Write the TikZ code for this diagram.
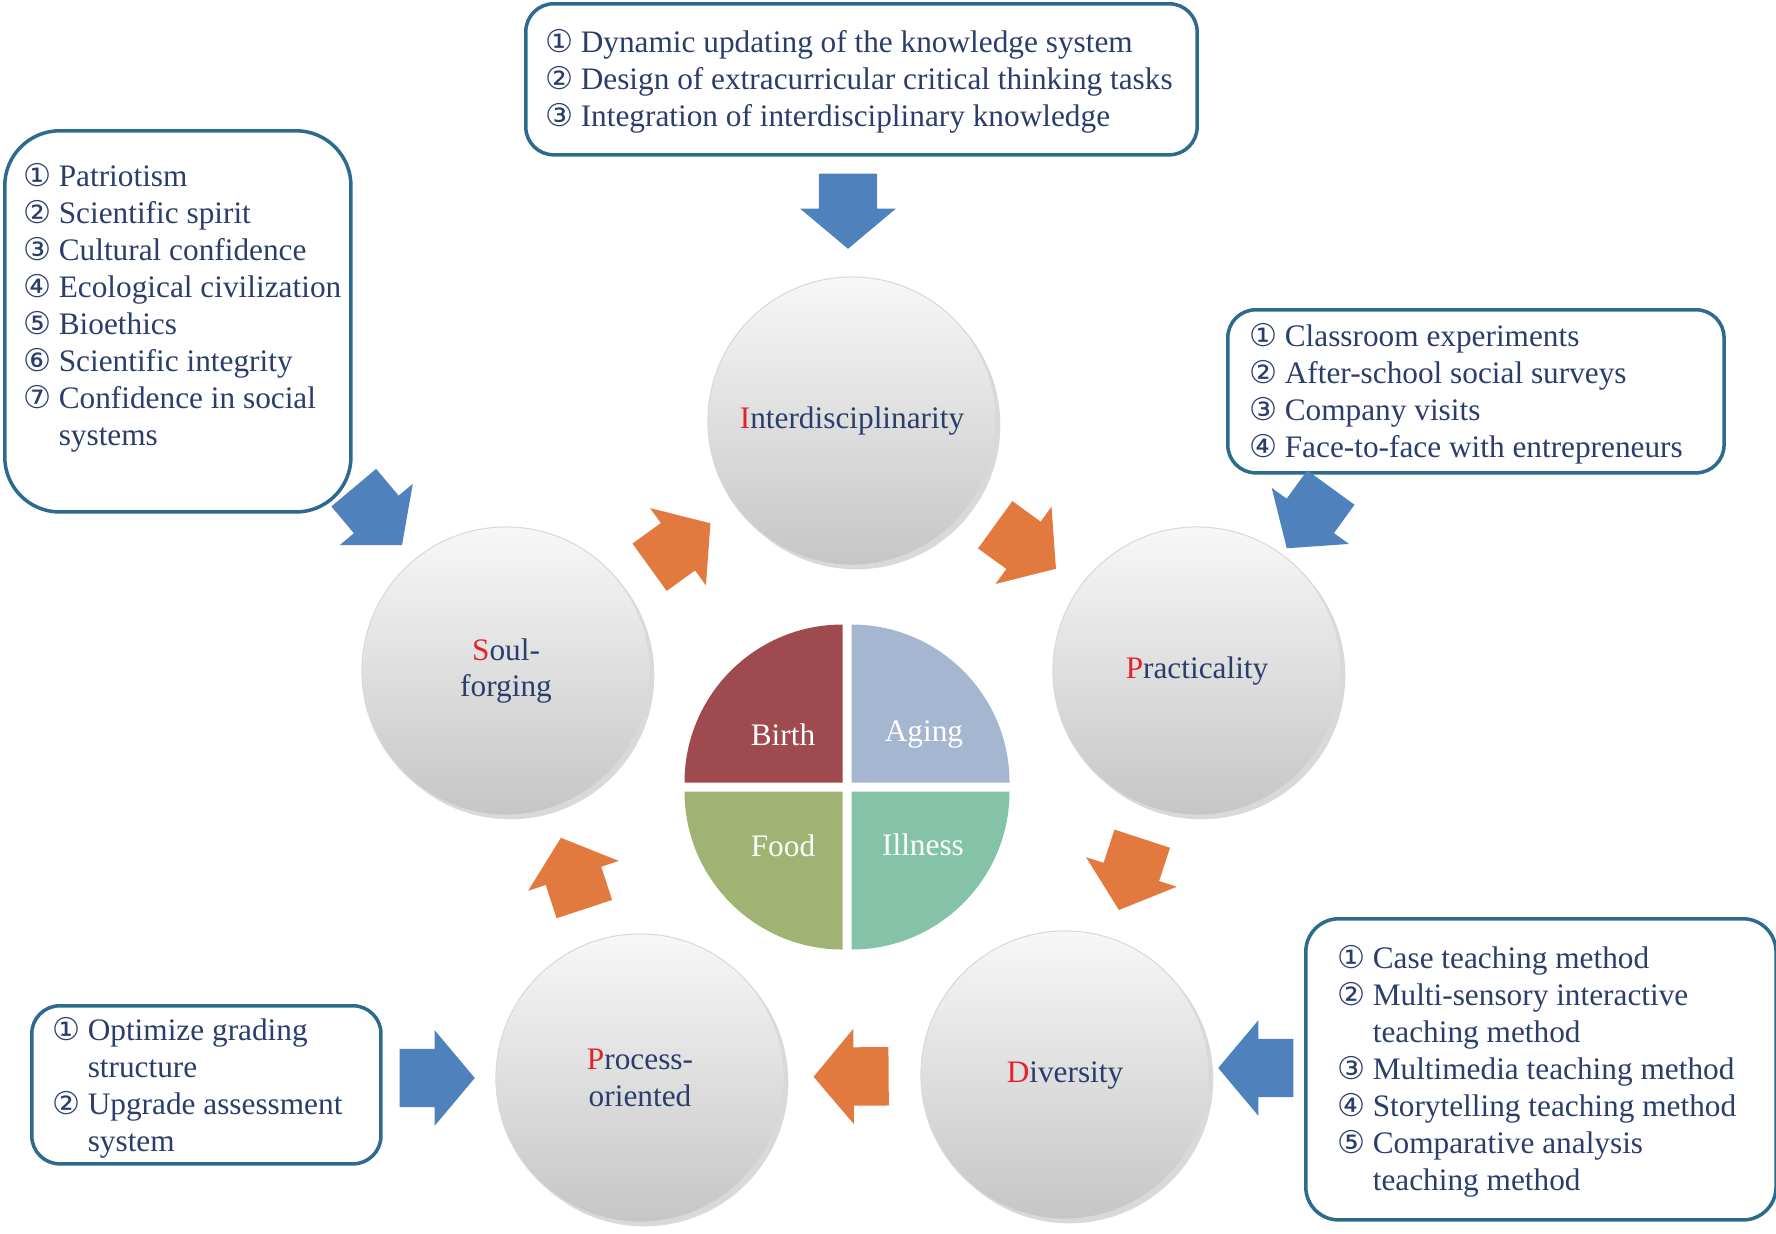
\documentclass[tikz,border=0pt]{standalone}
\usepackage{fontspec}
\setmainfont{Liberation Serif}
\newfontfamily\numfont{DejaVu Sans}
\usetikzlibrary{positioning,calc,shapes.arrows,shadows}
\definecolor{textnavy}{HTML}{2B3D6B}
\definecolor{initialred}{HTML}{E3232B}
\definecolor{boxline}{HTML}{2C6A8E}
\definecolor{arrowblue}{HTML}{4F81BD}
\definecolor{arroworange}{HTML}{E27A3F}
\definecolor{birthred}{HTML}{9F4A4E}
\definecolor{agingblue}{HTML}{A5B6D0}
\definecolor{foodgreen}{HTML}{A0B373}
\definecolor{illnessgreen}{HTML}{84C3A7}
\newcommand\initial[1]{\textcolor{initialred}{#1}}
\newcommand\cn[1]{{\numfont #1}}

\begin{document}
\begin{tikzpicture}[
  x=0.01cm,
  y=0.01cm,
  every node/.style={font=\fontsize{8.9}{10.5}\selectfont, text=textnavy},
  stagecircle/.style={circle, minimum size=2.88cm, inner sep=0, align=center,
    top color=gray!6, bottom color=gray!45, draw=gray!30, line width=0.3pt,
    drop shadow={shadow xshift=1.2pt, shadow yshift=-1.2pt, fill=gray, opacity=0.3}},
  itembox/.style={draw=boxline, line width=1pt, rounded corners=0.28cm, anchor=north west, inner sep=0},
  itemtext/.style={anchor=north west, inner sep=0, align=left},
  blockarrow/.style={single arrow, inner xsep=0, inner ysep=0.285cm, minimum height=0.75cm,
    minimum width=0.94cm, single arrow head extend=0.185cm, single arrow tip angle=100},
  inarrow/.style={blockarrow, fill=arrowblue},
  flowarrow/.style={blockarrow, fill=arroworange, sloped, allow upside down, pos=0.42},
  pielabel/.style={text=white}
]
  \useasboundingbox (0,0) rectangle (1776,-1233);

  % centre wheel
  \coordinate (pie) at (847,-787);
  \fill[birthred] ($(pie)+(-4.5,4.5)$) -- ++(-158,0) arc[start angle=180, end angle=90, radius=158] -- cycle;
  \fill[agingblue] ($(pie)+(4.5,4.5)$) -- ++(158,0) arc[start angle=0, end angle=90, radius=158] -- cycle;
  \fill[foodgreen] ($(pie)+(-4.5,-4.5)$) -- ++(-158,0) arc[start angle=180, end angle=270, radius=158] -- cycle;
  \fill[illnessgreen] ($(pie)+(4.5,-4.5)$) -- ++(158,0) arc[start angle=0, end angle=-90, radius=158] -- cycle;
  \node[pielabel] (birth) at ($(pie)+(-64,52)$) {Birth};
  \node[pielabel] (aging) at ($(pie)+(77,52)$) {Aging};
  \node[pielabel] (food) at ($(pie)+(-64,-59)$) {Food};
  \node[pielabel] (illness) at ($(pie)+(76,-58)$) {Illness};

  % five stages
  \node[stagecircle] (inter) at (852,-421) {\initial{I}nterdisciplinarity};
  \node[stagecircle] (pract) at (1197,-671) {\initial{P}racticality};
  \node[stagecircle] (div) at (1065,-1075) {\initial{D}iversity};
  \node[stagecircle] (proc) at (640,-1078) {\initial{P}rocess-\\oriented};
  \node[stagecircle] (soul) at (506,-671) {\initial{S}oul-\\forging};

  \path (soul) -- node[flowarrow] (f1) {} (inter);
  \path (inter) -- node[flowarrow] (f2) {} (pract);
  \path (pract) -- node[flowarrow] (f3) {} (div);
  \path (div) -- node[flowarrow] (f4) {} (proc);
  \path (proc) -- node[flowarrow] (f5) {} (soul);

  % boxes
  \node[itembox, minimum width=6.71cm, minimum height=1.51cm] (interbox) at (524,-2) {};
  \node[itemtext] (intertext) at (545,-26) {\begin{tabular}{@{}l@{\hspace{2pt}}l@{}}
    \cn{①} & Dynamic updating of the knowledge system\\
    \cn{②} & Design of extracurricular critical thinking tasks\\
    \cn{③} & Integration of interdisciplinary knowledge
  \end{tabular}};

  \node[itembox, rounded corners=0.55cm, minimum width=3.46cm, minimum height=3.81cm] (soulbox) at (3,-129) {};
  \node[itemtext] (soultext) at (23,-160) {\begin{tabular}{@{}l@{\hspace{2pt}}l@{}}
    \cn{①} & Patriotism\\
    \cn{②} & Scientific spirit\\
    \cn{③} & Cultural confidence\\
    \cn{④} & Ecological civilization\\
    \cn{⑤} & Bioethics\\
    \cn{⑥} & Scientific integrity\\
    \cn{⑦} & Confidence in social\\
           & systems
  \end{tabular}};

  \node[itembox, minimum width=4.96cm, minimum height=1.63cm] (practbox) at (1226,-308) {};
  \node[itemtext] (practtext) at (1249,-320) {\begin{tabular}{@{}l@{\hspace{2pt}}l@{}}
    \cn{①} & Classroom experiments\\
    \cn{②} & After-school social surveys\\
    \cn{③} & Company visits\\
    \cn{④} & Face-to-face with entrepreneurs
  \end{tabular}};

  \node[itembox, rounded corners=0.33cm, minimum width=4.70cm, minimum height=3.01cm] (divbox) at (1304,-917) {};
  \node[itemtext] (divtext) at (1337,-942) {\begin{tabular}{@{}l@{\hspace{2pt}}l@{}}
    \cn{①} & Case teaching method\\
    \cn{②} & Multi-sensory interactive\\
           & teaching method\\
    \cn{③} & Multimedia teaching method\\
    \cn{④} & Storytelling teaching method\\
    \cn{⑤} & Comparative analysis\\
           & teaching method
  \end{tabular}};

  \node[itembox, minimum width=3.49cm, minimum height=1.58cm] (procbox) at (30,-1004) {};
  \node[itemtext] (proctext) at (52,-1014) {\begin{tabular}{@{}l@{\hspace{2pt}}l@{}}
    \cn{①} & Optimize grading\\
           & structure\\
    \cn{②} & Upgrade assessment\\
           & system
  \end{tabular}};

  % inputs
  \node[inarrow, rotate=-90] (in1) at (848,-199) {};
  \node[inarrow, rotate=-50] (in2) at (370,-507) {};
  \node[inarrow, rotate=-126] (in3) at (1316,-508) {};
  \node[inarrow, rotate=180] (in4) at (1268,-1068) {};
  \node[inarrow] (in5) at (425,-1078) {};
\end{tikzpicture}
\end{document}
